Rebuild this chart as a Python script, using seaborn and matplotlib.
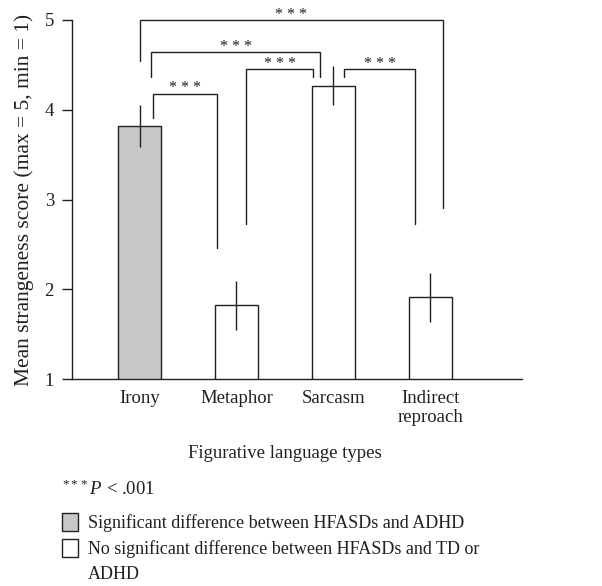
import matplotlib
matplotlib.use("Agg")
import matplotlib.pyplot as plt
import seaborn as sns
from matplotlib.patches import Rectangle

# values
categories = ["Irony", "Metaphor", "Sarcasm", "Indirect\nreproach"]
means = [3.82, 1.82, 4.27, 1.91]
errors = [0.23, 0.27, 0.22, 0.27]
bar_colors = ["#c6c7c9", "#ffffff", "#ffffff", "#ffffff"]

# significance brackets: (x left, x right, y top, left leg bottom, right leg bottom)
brackets = [
    (0.00, 3.135, 5.00, 4.54, 2.91),
    (0.12, 1.866, 4.64, 4.37, 4.36),
    (0.143, 0.80, 4.18, 3.91, 2.46),
    (1.096, 1.794, 4.45, 2.73, 4.36),
    (2.114, 2.843, 4.45, 4.36, 2.73),
]

ink = "#231f20"

sns.set_style("ticks")
plt.rcParams["font.family"] = ["Liberation Serif", "DejaVu Serif"]
plt.rcParams["mathtext.fontset"] = "custom"
plt.rcParams["mathtext.rm"] = "Liberation Serif"
plt.rcParams["mathtext.it"] = "Liberation Serif:italic"

fig = plt.figure(figsize=(6.02, 5.86), dpi=100)
ax = fig.add_axes([72 / 602, 1 - 379 / 586, 450 / 602, 359 / 586])

sns.barplot(x=categories, y=means, hue=categories, palette=bar_colors,
            width=0.44, edgecolor=ink, linewidth=1.0, legend=False, ax=ax)
ax.errorbar(range(len(means)), means, yerr=errors, fmt="none",
            ecolor=ink, elinewidth=1.0, capsize=0)

for x1, x2, top, b1, b2 in brackets:
    ax.plot([x1, x1, x2, x2], [b1, top, top, b2], color=ink, lw=1.0,
            clip_on=False, solid_joinstyle="miter")
    ax.annotate("* * *", xy=((x1 + x2) / 2, top), xytext=(0, 1),
                textcoords="offset points", ha="center", va="baseline",
                fontsize=11.5, color=ink, annotation_clip=False)

ax.set_ylim(1, 5)
ax.set_xlim(-0.697, 3.947)
ax.set_yticks([1, 2, 3, 4, 5])
sns.despine(ax=ax)
for s in ["left", "bottom"]:
    ax.spines[s].set_color(ink)
    ax.spines[s].set_linewidth(1.0)
ax.tick_params(axis="y", length=7, width=1.0, color=ink, pad=6,
               labelsize=13.5, labelcolor=ink)
ax.tick_params(axis="x", length=0, pad=8, labelsize=13.5, labelcolor=ink)
for t in ax.get_xticklabels():
    t.set_linespacing(1.15)

ax.set_ylabel("Mean strangeness score (max = 5, min = 1)", fontsize=15.5, color=ink)
ax.yaxis.set_label_coords(-0.085, 0.5)
ax.set_xlabel("Figurative language types", fontsize=13.5, color=ink)
ax.xaxis.set_label_coords(0.473, -0.185)

# footnote
fig.text(62 / 602, 1 - 495 / 586, r"$^{***}P$ < .001", fontsize=13.5,
         color=ink, va="baseline")

# legend drawn by hand so the boxes sit beside the first line of text
legend_items = [
    ("#c6c7c9", "Significant difference between HFASDs and ADHD"),
    ("#ffffff", "No significant difference between HFASDs and TD or\nADHD"),
]
row_top = [513, 539]
for (fc, label), top in zip(legend_items, row_top):
    fig.patches.append(Rectangle((62 / 602, 1 - (top + 18) / 586), 16 / 602, 18 / 586,
                                 transform=fig.transFigure, facecolor=fc,
                                 edgecolor=ink, linewidth=1.0))
    for i, line in enumerate(label.split("\n")):
        fig.text(88 / 602, 1 - (top + 15 + 25 * i) / 586, line, fontsize=13.0,
                 color=ink, va="baseline")

fig.savefig("out.png", dpi=100)
